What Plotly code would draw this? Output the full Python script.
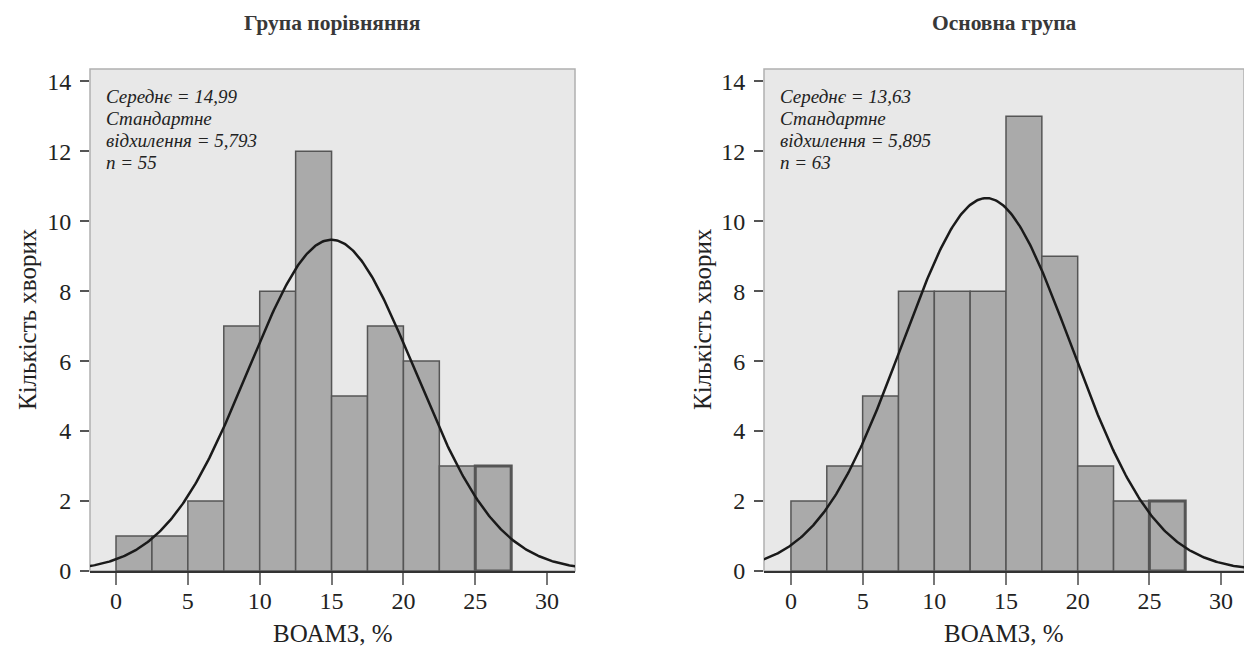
import numpy as np
import plotly.graph_objects as go

# ---- data ----
bin_starts = [0, 2.5, 5, 7.5, 10, 12.5, 15, 17.5, 20, 22.5, 25]
bin_width = 2.5
counts_comparison = [1, 1, 2, 7, 8, 12, 5, 7, 6, 3, 3]
counts_main = [2, 3, 5, 8, 8, 8, 13, 9, 3, 2, 2]

mean_comparison, sd_comparison, n_comparison = 14.99, 5.793, 55
mean_main, sd_main, n_main = 13.63, 5.895, 63

titles = ["Група порівняння", "Основна група"]
stat_lines_comparison = ["Середнє = 14,99", "Стандартне", "відхилення = 5,793", "n = 55"]
stat_lines_main = ["Середнє = 13,63", "Стандартне", "відхилення = 5,895", "n = 63"]
x_title = "ВОАМЗ, %"
y_title = "Кількість хворих"
x_ticks = [0, 5, 10, 15, 20, 25, 30]
y_ticks = [0, 2, 4, 6, 8, 10, 12, 14]

FONT = "Liberation Serif, 'Times New Roman', 'DejaVu Serif', serif"
W, H = 1244, 659

panels = [
    dict(counts=counts_comparison, mean=mean_comparison, sd=sd_comparison, n=n_comparison,
         lines=stat_lines_comparison, px0=90, px1=575, xr=[-1.81, 31.94], xa="x", ya="y"),
    dict(counts=counts_main, mean=mean_main, sd=sd_main, n=n_main,
         lines=stat_lines_main, px0=764, px1=1244, xr=[-1.88, 31.6], xa="x2", ya="y2"),
]
top_px, bot_px = 69, 571
y_dom = [1 - bot_px / H, 1 - top_px / H]

fig = go.Figure()
layout = dict(
    width=W, height=H, margin=dict(l=0, r=0, t=0, b=0, autoexpand=False),
    paper_bgcolor="white", plot_bgcolor="#e8e8e8", showlegend=False,
    font=dict(family=FONT, color="#222"),
)
annotations = []
shapes = []

for i, p in enumerate(panels):
    centers = [s + bin_width / 2 for s in bin_starts]
    lw = [1.5] * (len(bin_starts) - 1) + [3]
    fig.add_trace(go.Bar(
        x=centers, y=p["counts"], width=bin_width,
        marker=dict(color="#aaaaaa", line=dict(color="#555555", width=lw)),
        xaxis=p["xa"], yaxis=p["ya"], hoverinfo="skip",
    ))
    xs = np.linspace(p["xr"][0] - 1, p["xr"][1] + 1, 400)
    ys = p["n"] * bin_width * np.exp(-0.5 * ((xs - p["mean"]) / p["sd"]) ** 2) / (p["sd"] * np.sqrt(2 * np.pi))
    fig.add_trace(go.Scatter(
        x=xs, y=ys, mode="lines", line=dict(color="#1a1a1a", width=2.5),
        xaxis=p["xa"], yaxis=p["ya"], hoverinfo="skip",
    ))
    sfx = "" if i == 0 else "2"
    layout["xaxis" + sfx] = dict(
        domain=[p["px0"] / W, p["px1"] / W], range=p["xr"], anchor="y" + sfx,
        tickvals=x_ticks, ticks="outside", ticklen=12, tickwidth=1.5, tickcolor="#777",
        showline=True, linecolor="#333", linewidth=2, showgrid=False, zeroline=False,
        automargin=False, ticklabelstandoff=-5,
        tickfont=dict(family=FONT, size=24, color="#222"),
    )
    layout["yaxis" + sfx] = dict(
        domain=y_dom, range=[0, 14.35], anchor="x" + sfx,
        tickvals=y_ticks, ticks="outside", ticklen=9, tickwidth=1.5, tickcolor="#555",
        showline=False, showgrid=False, zeroline=False, ticklabelstandoff=4,
        automargin=False,
        tickfont=dict(family=FONT, size=24, color="#222"),
    )
    shapes.append(dict(
        type="rect", xref=p["xa"] + " domain", yref=p["ya"] + " domain",
        x0=0, x1=1, y0=0, y1=1, line=dict(color="#b0b0b0", width=1.5), layer="below",
    ))
    cx = (p["px0"] + p["px1"]) / 2 / W
    annotations.append(dict(
        text="<b>" + titles[i] + "</b>", xref="paper", yref="paper",
        x=cx, y=1 - 23 / H, xanchor="center", yanchor="middle", showarrow=False,
        font=dict(family=FONT, size=21.5, color="#383838"),
    ))
    for k, line in enumerate(p["lines"]):
        annotations.append(dict(
            text=line, xref=p["xa"] + " domain", yref="paper",
            x=14 / (p["px1"] - p["px0"]), y=1 - (96 + 22.3 * k) / H,
            xanchor="left", yanchor="middle", align="left", showarrow=False,
            font=dict(family=FONT, size=19, color="#222", style="italic"),
        ))
    annotations.append(dict(
        text=x_title, xref=p["xa"] + " domain", yref="paper",
        x=0.5, y=1 - 633 / H, xanchor="center", yanchor="middle",
        showarrow=False, font=dict(family=FONT, size=25, color="#222"),
    ))
    annotations.append(dict(
        text=y_title, xref="paper", yref="paper", textangle=-90,
        x=(27 if i == 0 else 702) / W, y=1 - 319 / H, xanchor="center", yanchor="middle",
        showarrow=False, font=dict(family=FONT, size=25, color="#222"),
    ))

layout["annotations"] = annotations
layout["shapes"] = shapes
fig.update_layout(**layout)
fig.write_html("out.html")
